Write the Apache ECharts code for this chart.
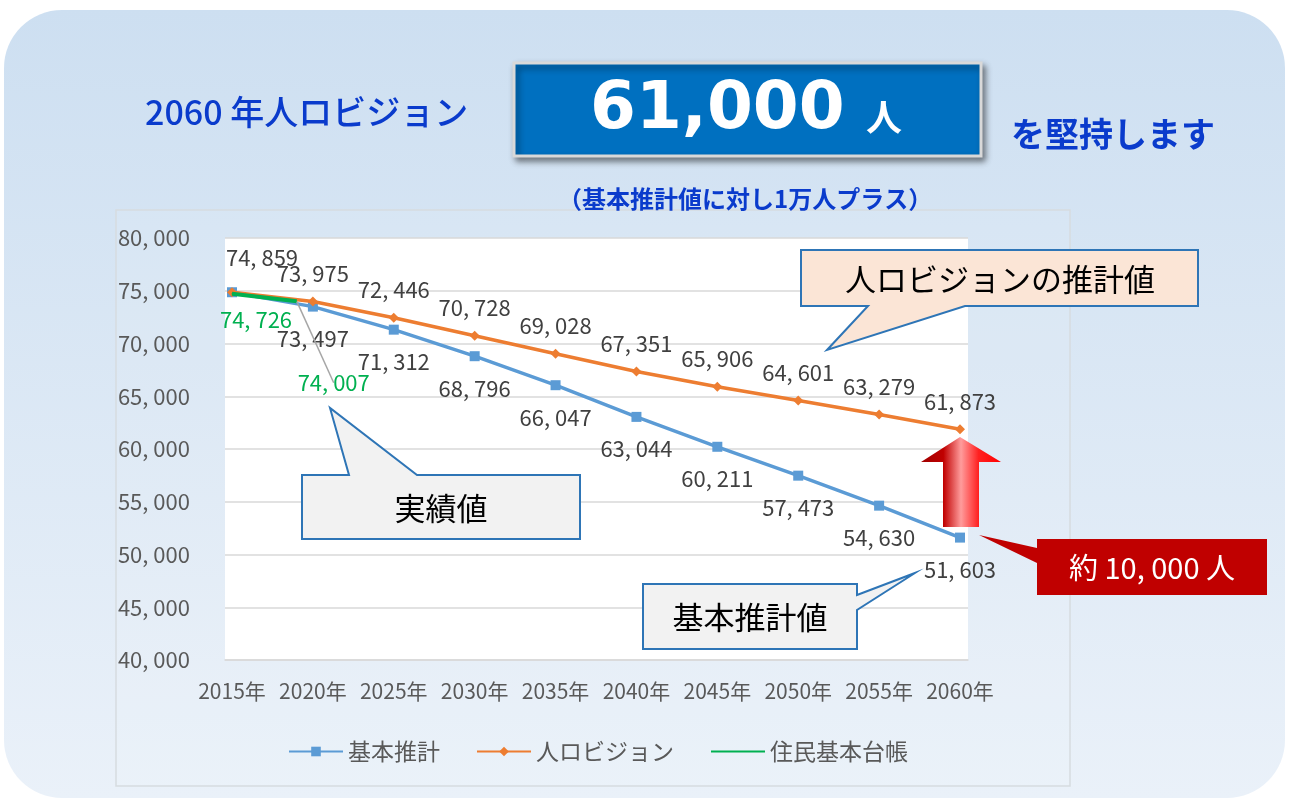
<!DOCTYPE html>
<html>
<head>
<meta charset="utf-8">
<title>2060年人口ビジョン</title>
<script src="https://cdn.jsdelivr.net/npm/echarts@6/dist/echarts.min.js"></script>
<style>
html, body { margin: 0; padding: 0; background: #ffffff; }
#chart { width: 1289px; height: 801px; }
</style>
</head>
<body>
<div id="chart"></div>
<script>
// データ
var years = [2015, 2020, 2025, 2030, 2035, 2040, 2045, 2050, 2055, 2060];
var kihonValues = [74859, 73497, 71312, 68796, 66047, 63044, 60211, 57473, 54630, 51603];
var visionValues = [74859, 73975, 72446, 70728, 69028, 67351, 65906, 64601, 63279, 61873];
var jukiYears = [2015, 2019];
var jukiValues = [74726, 74007];
var yTicks = [40000, 45000, 50000, 55000, 60000, 65000, 70000, 75000, 80000];

var NUM_FONT = "'Liberation Sans Narrow', 'Noto Sans CJK JP', sans-serif";
var JP_FONT = "'Noto Sans CJK JP', sans-serif";

function fmt(v) {
    var s = String(v % 1000);
    while (s.length < 3) s = '0' + s;
    return Math.floor(v / 1000) + ', ' + s;
}

var myChart = echarts.init(document.getElementById('chart'));

var kihonData = years.map(function (y, i) {
    var item = { value: [y, kihonValues[i]] };
    if (i === 0) {
        item.label = { position: 'top', distance: 5, offset: [30, -14] };
    }
    return item;
});
var visionData = years.map(function (y, i) {
    var item = { value: [y, visionValues[i]] };
    if (i === 0) item.label = { show: false };
    return item;
});
var jukiData = jukiYears.map(function (y, i) {
    var item = { value: [y, jukiValues[i]] };
    if (i === 0) {
        item.label = { offset: [24, 6] };
    } else {
        item.label = { offset: [37, 62] };
        item.labelLine = { show: true, lineStyle: { color: '#a6a6a6', width: 1.5 } };
    }
    return item;
});

var option = {
    animation: false,
    textStyle: { fontFamily: JP_FONT },
    graphic: [
        // 背景
        {
            type: 'rect', z: -100,
            shape: { x: 4, y: 10, width: 1281, height: 788, r: 58 },
            style: {
                fill: new echarts.graphic.LinearGradient(0, 0, 0, 1, [
                    { offset: 0, color: '#cddff1' },
                    { offset: 1, color: '#eaf1f9' }
                ])
            }
        },
        // グラフエリア枠
        {
            type: 'rect', z: -90,
            shape: { x: 116, y: 210, width: 954, height: 576 },
            style: { fill: 'rgba(255,255,255,0.08)', stroke: '#d6dbe0', lineWidth: 1.5 }
        },
        // タイトル
        {
            type: 'text', x: 145, y: 112, z: 50,
            style: { text: '2060 年人ロビジョン', fill: '#0a3bcc', font: '500 34px ' + JP_FONT, textVerticalAlign: 'middle' }
        },
        {
            type: 'rect', z: 40,
            shape: { x: 514, y: 63, width: 467, height: 93 },
            style: {
                fill: '#0070c0', stroke: '#d9d9d9', lineWidth: 3,
                shadowBlur: 6, shadowOffsetX: 3, shadowOffsetY: 4, shadowColor: 'rgba(0,0,0,0.45)'
            }
        },
        {
            type: 'text', x: 590, y: 111, z: 50,
            style: { text: '61,000', fill: '#ffffff', font: 'bold 66px "DejaVu Sans", sans-serif', textVerticalAlign: 'middle' }
        },
        {
            type: 'text', x: 866, y: 117, z: 50,
            style: { text: '人', fill: '#ffffff', font: 'bold 36px ' + JP_FONT, textVerticalAlign: 'middle' }
        },
        {
            type: 'text', x: 1011, y: 134, z: 50,
            style: { text: 'を堅持します', fill: '#0a3bcc', font: 'bold 34px ' + JP_FONT, textVerticalAlign: 'middle' }
        },
        {
            type: 'text', x: 558, y: 199, z: 50,
            style: { text: '（基本推計値に対し1万人プラス）', fill: '#0a3bcc', font: 'bold 24px ' + JP_FONT, textVerticalAlign: 'middle' }
        },
        // 吹き出し：人ロビジョンの推計値
        {
            type: 'polygon', z: 100,
            shape: { points: [[801, 250], [1198, 250], [1198, 306], [965, 306], [827, 350], [868, 306], [801, 306]] },
            style: { fill: '#fbe5d6', stroke: '#2e75b6', lineWidth: 2 }
        },
        {
            type: 'text', x: 1000, y: 279, z: 101,
            style: { text: '人ロビジョンの推計値', fill: '#000000', font: '31px ' + JP_FONT, textAlign: 'center', textVerticalAlign: 'middle' }
        },
        // 吹き出し：実績値
        {
            type: 'polygon', z: 100,
            shape: { points: [[302, 475], [349, 475], [330, 408], [417, 475], [580, 475], [580, 539], [302, 539]] },
            style: { fill: '#f2f2f2', stroke: '#2e75b6', lineWidth: 2 }
        },
        {
            type: 'text', x: 441, y: 508, z: 101,
            style: { text: '実績値', fill: '#000000', font: '31px ' + JP_FONT, textAlign: 'center', textVerticalAlign: 'middle' }
        },
        // 吹き出し：基本推計値
        {
            type: 'polygon', z: 100,
            shape: { points: [[643, 584], [857, 584], [857, 595], [915, 573], [857, 610], [857, 649], [643, 649]] },
            style: { fill: '#f2f2f2', stroke: '#2e75b6', lineWidth: 2 }
        },
        {
            type: 'text', x: 750, y: 617, z: 101,
            style: { text: '基本推計値', fill: '#000000', font: '31px ' + JP_FONT, textAlign: 'center', textVerticalAlign: 'middle' }
        },
        // 矢印
        {
            type: 'polygon', z: 100,
            shape: { points: [[943, 527], [943, 462], [921, 462], [960, 437], [1001, 462], [979, 462], [979, 527]] },
            style: {
                fill: new echarts.graphic.LinearGradient(0, 0, 1, 0, [
                    { offset: 0, color: '#a00000' },
                    { offset: 0.28, color: '#c00000' },
                    { offset: 0.5, color: '#ff9c9c' },
                    { offset: 0.72, color: '#ff2020' },
                    { offset: 1, color: '#ff0000' }
                ])
            }
        },
        // 吹き出し：約10,000人
        {
            type: 'polygon', z: 100,
            shape: { points: [[1037, 539], [1267, 539], [1267, 595], [1037, 595], [1037, 563], [979, 535], [1037, 548]] },
            style: { fill: '#c00000' }
        },
        {
            type: 'text', x: 1152, y: 568, z: 101,
            style: { text: '約 10, 000 人', fill: '#ffffff', font: '29px ' + NUM_FONT, textAlign: 'center', textVerticalAlign: 'middle' }
        }
    ],
    legend: {
        data: [
            { name: '基本推計' },
            { name: '人ロビジョン' },
            { name: '住民基本台帳', itemStyle: { opacity: 0 } }
        ],
        left: 283,
        top: 735,
        itemWidth: 54,
        itemHeight: 12,
        itemGap: 36,
        textStyle: { color: '#595959', fontSize: 23, fontFamily: JP_FONT, padding: [0, 0, 0, 0] }
    },
    grid: [
        { left: 232, right: 329, top: 238, bottom: 141 },
        { left: 225, right: 321, top: 238, bottom: 141, show: true, backgroundColor: '#ffffff', borderWidth: 0, z: -1 }
    ],
    xAxis: [
        {
            type: 'value', gridIndex: 0, min: 2015, max: 2060, interval: 5,
            axisLine: { show: false }, axisTick: { show: false }, splitLine: { show: false },
            axisLabel: {
                color: '#595959', fontSize: 21, fontFamily: NUM_FONT, margin: 21,
                formatter: function (v) { return v + '年'; }
            }
        },
        {
            type: 'value', gridIndex: 1, min: 0, max: 1,
            axisLine: { show: true, lineStyle: { color: '#d9d9d9', width: 1.5 } },
            axisTick: { show: false }, axisLabel: { show: false }, splitLine: { show: false }
        }
    ],
    yAxis: [
        {
            type: 'value', gridIndex: 0, min: yTicks[0], max: yTicks[yTicks.length - 1], interval: 5000,
            show: false
        },
        {
            type: 'value', gridIndex: 1, min: yTicks[0], max: yTicks[yTicks.length - 1], interval: 5000,
            axisLine: { show: false }, axisTick: { show: false },
            splitLine: { lineStyle: { color: '#d9d9d9', width: 1.5 } },
            axisLabel: { color: '#595959', fontSize: 22, fontFamily: NUM_FONT, margin: 35, formatter: fmt }
        }
    ],
    series: [
        {
            name: '基本推計', type: 'line', xAxisIndex: 0, yAxisIndex: 0,
            data: kihonData,
            symbol: 'rect', symbolSize: 10,
            lineStyle: { color: '#5b9bd5', width: 3.5 },
            itemStyle: { color: '#5b9bd5' },
            label: {
                show: true, position: 'bottom', distance: 16, color: '#404040', fontSize: 22, fontFamily: NUM_FONT,
                formatter: function (p) { return fmt(p.value[1]); }
            },
            z: 3
        },
        {
            name: '人ロビジョン', type: 'line', xAxisIndex: 0, yAxisIndex: 0,
            data: visionData,
            symbol: 'diamond', symbolSize: 10,
            lineStyle: { color: '#ed7d31', width: 3.5 },
            itemStyle: { color: '#ed7d31' },
            label: {
                show: true, position: 'top', distance: 12, color: '#404040', fontSize: 22, fontFamily: NUM_FONT,
                formatter: function (p) { return fmt(p.value[1]); }
            },
            z: 4
        },
        {
            name: '住民基本台帳', type: 'line', xAxisIndex: 0, yAxisIndex: 0,
            data: jukiData,
            symbol: 'circle', symbolSize: 1, showSymbol: true,
            lineStyle: { color: '#00b050', width: 4 },
            itemStyle: { color: '#00b050' },
            label: {
                show: true, position: 'bottom', distance: 8, color: '#00b050', fontSize: 22, fontFamily: NUM_FONT,
                formatter: function (p) { return fmt(p.value[1]); }
            },
            z: 5
        }
    ]
};

myChart.setOption(option);
</script>
</body>
</html>
